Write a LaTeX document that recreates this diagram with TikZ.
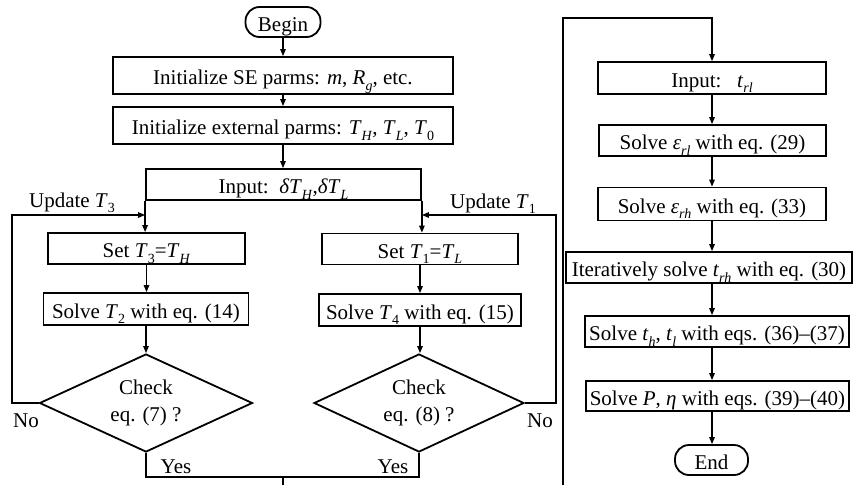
\documentclass[tikz,border=0pt]{standalone}
\usepackage{fontspec}
\setmainfont{Liberation Serif}
\usetikzlibrary{arrows.meta,shapes.geometric}
% lowered, smaller index text
\newcommand\lo[1]{\raisebox{-0.27em}{\fontsize{14}{14}\selectfont #1}}
% two centred lines, set a little low inside a decision shape
\newcommand\twolines[2]{\raisebox{-3pt}{\begin{tabular}{@{}c@{}}#1\\#2\end{tabular}}}
\begin{document}
\begin{tikzpicture}[x=1pt,y=-1pt,
  every node/.style={font=\fontsize{21}{27}\selectfont, text=black},
  box/.style={draw, line width=1.8pt, inner xsep=1pt, inner ysep=0pt,
    minimum height=31pt, text height=18pt, text depth=0pt},
  term/.style={draw, line width=1.8pt, rounded corners=14pt, minimum width=75pt,
    minimum height=30pt, inner xsep=1pt, inner ysep=0pt, text height=18pt, text depth=0pt},
  check/.style={draw, diamond, aspect=2.17, line width=1.8pt, inner sep=0pt,
    minimum width=213pt, minimum height=98pt},
  link/.style={line width=1.3pt},
  flow/.style={link, -{Triangle[length=7pt,width=5.5pt]}},
  lbl/.style={inner sep=0pt, anchor=base}
]
\useasboundingbox (0,0) rectangle (853,485);

% ---- main column ----
\node[term] (begin) at (283,22) {Begin};
\node[box, minimum width=340pt, minimum height=37pt] (se) at (283,75.5)
  {Initialize SE parms: \textit{m}, \textit{R}\lo{\textit{g}}, etc.};
\node[box, minimum width=340pt, minimum height=37pt] (ext) at (283,125.5)
  {Initialize external parms: \textit{T}\lo{\textit{H}}, \textit{T}\lo{\textit{L}}, \textit{T}\lo{0}};
\node[box, minimum width=275pt] (inp) at (283.5,184.5)
  {Input:\ \ \textit{δT}\lo{\textit{H}},\textit{δT}\lo{\textit{L}}};

% ---- left branch ----
\node[box, minimum width=197pt] (set3) at (146.5,248.5) {Set \textit{T}\lo{3}=\textit{T}\lo{\textit{H}}};
\node[box, minimum width=205pt, minimum height=32pt] (sol2) at (146,309)
  {Solve \textit{T}\lo{2} with eq. (14)};
\node[check] (chk7) at (146,403) {\twolines{Check}{eq. (7) ?}};

% ---- right branch ----
\node[box, minimum width=196pt] (set1) at (420,249) {Set \textit{T}\lo{1}=\textit{T}\lo{\textit{L}}};
\node[box, minimum width=202pt, minimum height=32pt] (sol4) at (420,310)
  {Solve \textit{T}\lo{4} with eq. (15)};
\node[check, minimum width=210pt] (chk8) at (419,403) {\twolines{Check}{eq. (8) ?}};

% ---- second column ----
\coordinate (colR) at (712,0);
\node[box, minimum width=228pt, minimum height=32pt] (inrl) at (712,78)
  {Input:\ \ \ \textit{t}\lo{\textit{rl}}};
\node[box, minimum width=227pt] (erl) at (712.5,140.5)
  {Solve \textit{ε}\lo{\textit{rl}} with eq. (29)};
\node[box, minimum width=228pt, minimum height=33pt] (erh) at (712,204)
  {Solve \textit{ε}\lo{\textit{rh}} with eq. (33)};
\node[box, minimum width=286pt] (trh) at (709,267.5)
  {Iteratively solve \textit{t}\lo{\textit{rh}} with eq. (30)};
\node[box, minimum width=264pt] (thl) at (717,331.5)
  {Solve \textit{t}\lo{\textit{h}}, \textit{t}\lo{\textit{l}} with eqs. (36)--(37)};
\node[box, minimum width=263pt, minimum height=30pt] (peta) at (717.5,396)
  {Solve \textit{P}, \textit{η} with eqs. (39)--(40)};
\node[term, minimum width=73pt] (end) at (711.5,460) {End};

% ---- labels ----
\node[lbl] (up3) at (72,207) {Update \textit{T}\lo{3}};
\node[lbl] (up1) at (493,208) {Update \textit{T}\lo{1}};
\node[lbl] (no7) at (26,427) {No};
\node[lbl] (no8) at (540,427) {No};
\node[lbl] (yes7) at (176,473) {Yes};
\node[lbl] (yes8) at (393,473) {Yes};

% ---- connectors, main column ----
\draw[flow] (begin) -- (se);
\draw[flow] (se) -- (ext);
\draw[flow] (ext) -- (ext.south |- inp.north);
\draw[flow] (inp.south west) -- (inp.south west |- set3.north);
\draw[flow] (inp.south east) -- (inp.south east |- set1.north);
\draw[flow] (set3.south) -- (set3.south |- sol2.north);
\draw[flow] (sol2) -- (chk7);
\draw[flow] (set1) -- (sol4);
\draw[flow] (sol4.south) -- (sol4.south |- chk8.north);

% feedback loops
\coordinate (fbL) at (12,215);
\coordinate (fbR) at (556,215);
\draw[flow] (chk7.west) -| (fbL) -- (fbL -| inp.south west);
\draw[flow] (chk8.east) -| (fbR) -- (fbR -| inp.south east);

% joining the two "Yes" exits
\coordinate (join) at (283,477);
\coordinate (out) at (283,485);
\draw[link] (chk7.south) |- (join) -| (chk8.south);
\draw[link] (join) -- (out);

% ---- connectors, second column ----
\coordinate (busB) at (563,485);
\coordinate (busT) at (563,18);
\draw[flow] (busB) -- (busT) -| (inrl.north -| colR);
\draw[flow] (inrl.south -| colR) -- (erl.north -| colR);
\draw[flow] (erl.south -| colR) -- (erh.north -| colR);
\draw[flow] (erh.south -| colR) -- (trh.north -| colR);
\draw[flow] (trh.south -| colR) -- (thl.north -| colR);
\draw[flow] (thl.south -| colR) -- (peta.north -| colR);
\draw[flow] (peta.south -| colR) -- (end.north -| colR);
\end{tikzpicture}
\end{document}
